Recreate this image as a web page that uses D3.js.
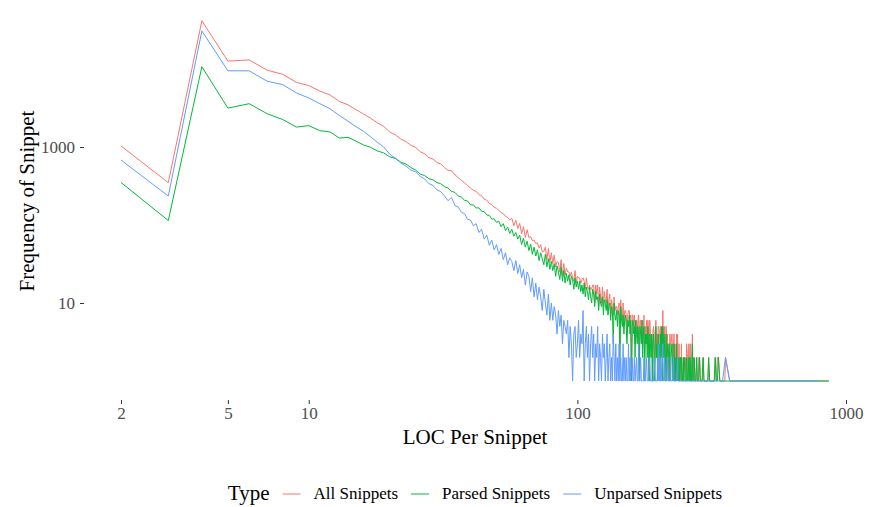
<!DOCTYPE html>
<html><head><meta charset="utf-8">
<script src="https://cdn.jsdelivr.net/npm/d3@7"></script>
<style>body{margin:0;background:#fff}text{font-family:"Liberation Serif","Times New Roman",serif}</style>
</head><body>
<svg id="c" width="871" height="507"></svg>
<script>
// LOC per snippet runs 2..370 (one value per integer LOC), then a sparse tail
const locFirst = 2, locLast = 370;
const tailLoc = [786, 864];

const parsedSnippets = [
 351, 114, 10700, 3150, 3590, 2670, 2250, 1800, 1880,
 1620, 1560, 1300, 1330, 1190, 1060, 990, 890, 840, 750,
 715, 640, 605, 545, 505, 450, 430, 392, 380, 350,
 338, 310, 298, 270, 262, 236, 228, 208, 203, 182,
 181, 165, 166, 150, 149, 134, 133, 119, 120, 108,
 112, 95, 104, 85, 94, 78, 88, 72, 80, 66,
 74, 56, 68, 52, 62, 47, 57, 42, 52, 40,
 48, 35, 44, 37, 31, 42, 29, 37, 27, 34,
 26, 32, 22, 30, 25, 20, 29, 19, 26, 18,
 24, 19, 23, 17, 22, 20, 15, 21, 16, 19,
 15, 19, 14, 17, 13, 18, 12, 16, 14, 11,
 16, 12, 10, 15, 13, 9, 14, 11, 12, 8,
 13, 10, 9, 12, 7, 11, 10, 8, 11, 7,
 9, 10, 6, 9, 8, 3, 10, 7, 6, 8,
 5, 8, 7, 2, 9, 6, 5, 7, 4, 6,
 7, 5, 3, 6, 5, 7, 4, 6, 1, 5,
 6, 4, 5, 2, 6, 4, 3, 5, 4, 1,
 5, 4, 3, 6, 2, 4, 5, 1, 4, 3,
 4, 2, 5, 3, 1, 4, 3, 2, 4, 1,
 3, 4, 2, 1, 3, 5, 2, 3, 1, 4,
 2, 3, 1, 4, 2, 5, 1, 5, 2, 4,
 3, 1, 2, 4, 1, 2, 3, 0, 2, 1,
 3, 1, 2, 0, 3, 1, 2, 1, 3, 1,
 2, 0, 1, 3, 1, 2, 0, 1, 2, 1,
 1, 2, 0, 2, 1, 1, 0, 2, 1, 0,
 2, 1, 0, 1, 2, 0, 1, 1, 0, 2,
 1, 0, 2, 1, 0, 1, 2, 3, 1, 0,
 1, 2, 0, 1, 0, 1, 0, 2, 0, 1,
 0, 1, 1, 0, 2, 0, 1, 0, 1, 0,
 1, 0, 0, 2, 0, 1, 0, 0, 1, 0,
 1, 0, 1, 0, 0, 1, 0, 2, 0, 0,
 1, 0, 0, 1, 0, 0, 1, 0, 0, 1,
 0, 0, 1, 0, 0, 2, 0, 0, 1, 0,
 0, 1, 0, 0, 2, 0, 0, 0, 1, 0,
 0, 0, 1, 0, 0, 0, 0, 1, 0, 0,
 0, 0, 0, 1, 0, 0, 0, 0, 0, 0,
 0, 0, 0, 0, 0, 0, 0, 0, 0, 0
];
const unparsedSnippets = [
 680, 235, 30800, 9480, 9480, 6970, 6310, 4930, 4250,
 3590, 3090, 2540, 2140, 1820, 1585, 1350, 1150, 1000, 813,
 720, 625, 570, 505, 480, 420, 388, 340, 322, 282,
 268, 236, 205, 226, 178, 170, 146, 140, 118, 116,
 98, 104, 80, 88, 66, 74, 55, 64, 48, 56,
 42, 50, 36, 44, 31, 38, 34, 26, 35, 24,
 31, 21, 27, 17, 25, 22, 14, 21, 12, 18,
 11, 16, 12, 8, 15, 10, 7, 13, 6, 10,
 6, 9, 7, 4, 8, 5, 7, 3, 6, 5,
 4, 6, 2, 5, 3, 1, 4, 5, 2, 3,
 6, 2, 4, 3, 8, 1, 3, 5, 2, 4,
 1, 3, 5, 2, 4, 1, 3, 2, 5, 1,
 3, 2, 1, 4, 2, 3, 1, 2, 4, 1,
 2, 3, 1, 2, 1, 4, 2, 1, 3, 1,
 2, 1, 3, 1, 2, 1, 1, 3, 1, 2,
 1, 2, 1, 1, 3, 1, 2, 1, 0, 2,
 1, 1, 2, 1, 0, 2, 1, 1, 3, 1,
 1, 2, 1, 0, 1, 1, 2, 1, 1, 0,
 2, 1, 1, 1, 0, 2, 1, 1, 0, 1,
 1, 1, 2, 0, 1, 1, 0, 1, 2, 1,
 3, 1, 2, 1, 1, 0, 2, 3, 1, 1,
 2, 1, 0, 1, 1, 2, 0, 1, 1, 0,
 1, 2, 1, 0, 1, 1, 0, 2, 1, 0,
 1, 1, 0, 1, 0, 2, 1, 0, 1, 0,
 1, 0, 1, 1, 0, 0, 1, 0, 1, 0,
 0, 1, 0, 0, 1, 0, 1, 0, 0, 1,
 0, 0, 1, 0, 1, 0, 0, 1, 0, 0,
 1, 0, 0, 0, 1, 0, 0, 0, 1, 0,
 0, 0, 1, 0, 0, 0, 0, 1, 0, 0,
 0, 1, 0, 0, 0, 0, 1, 0, 0, 0,
 0, 0, 0, 1, 0, 0, 0, 0, 0, 1,
 0, 0, 0, 0, 0, 1, 0, 0, 0, 0,
 0, 0, 0, 1, 0, 0, 0, 0, 0, 0,
 0, 1, 0, 0, 0, 0, 0, 0, 0, 0,
 0, 0, 0, 0, 0, 0, 1, 0, 0, 0,
 0, 0, 0, 0, 0, 2, 0, 0, 0, 0,
 0, 0, 0, 0, 0, 0, 0, 0, 1, 0
];
const allSnippets = [
 1031, 349, 41500, 12630, 13070, 9640, 8560, 6730, 6130,
 5210, 4650, 3840, 3470, 3010, 2645, 2340, 2040, 1840, 1563,
 1435, 1265, 1175, 1050, 985, 870, 818, 732, 702, 632,
 606, 546, 503, 496, 440, 406, 374, 348, 321, 298,
 279, 269, 246, 238, 215, 208, 188, 183, 168, 164,
 154, 145, 140, 129, 125, 116, 122, 98, 115, 90,
 105, 77, 95, 69, 87, 69, 71, 63, 64, 58,
 59, 51, 56, 45, 46, 52, 36, 50, 33, 44,
 32, 41, 29, 34, 33, 25, 36, 22, 32, 23,
 28, 25, 25, 22, 25, 21, 19, 26, 18, 22,
 21, 21, 18, 20, 21, 19, 15, 21, 16, 15,
 17, 15, 15, 17, 17, 10, 17, 13, 17, 9,
 16, 12, 10, 16, 9, 14, 11, 10, 15, 8,
 11, 13, 7, 11, 9, 7, 12, 8, 9, 9,
 7, 9, 10, 3, 11, 7, 6, 10, 5, 8,
 8, 7, 4, 7, 8, 8, 6, 7, 1, 7,
 7, 5, 7, 3, 6, 6, 4, 6, 7, 2,
 6, 6, 4, 6, 3, 5, 7, 2, 5, 3,
 6, 3, 6, 4, 1, 6, 4, 3, 4, 2,
 4, 5, 4, 1, 4, 6, 2, 4, 3, 5,
 5, 4, 3, 5, 3, 5, 3, 8, 3, 5,
 5, 2, 2, 5, 2, 4, 3, 1, 3, 1,
 4, 3, 3, 0, 4, 2, 2, 3, 4, 1,
 3, 1, 1, 4, 1, 4, 1, 1, 3, 1,
 2, 2, 1, 3, 1, 1, 1, 2, 2, 0,
 2, 2, 0, 1, 3, 0, 2, 1, 0, 3,
 1, 0, 3, 1, 1, 1, 2, 4, 1, 0,
 2, 2, 0, 1, 1, 1, 0, 2, 1, 1,
 0, 1, 2, 0, 2, 0, 1, 1, 1, 0,
 1, 1, 0, 2, 0, 1, 1, 0, 1, 0,
 1, 0, 1, 1, 0, 1, 0, 2, 0, 1,
 1, 0, 0, 1, 0, 1, 1, 0, 0, 1,
 0, 0, 1, 1, 0, 2, 0, 0, 1, 0,
 0, 2, 0, 0, 2, 0, 0, 0, 1, 0,
 0, 0, 1, 0, 0, 0, 1, 1, 0, 0,
 0, 0, 0, 1, 0, 2, 0, 0, 0, 0,
 0, 0, 0, 0, 0, 0, 0, 0, 1, 0
];
const tailAll = [1, 1];
const tailParsed = [0, 1];
const tailUnparsed = [1, 0];

const seriesNames = ["All Snippets", "Parsed Snippets", "Unparsed Snippets"];
const seriesColors = ["#F8766D", "#00BA38", "#619CFF"];
const xTicks = [2, 5, 10, 100, 1000];
const yTicks = [10, 1000];

const svg = d3.select("#c");
const x = d3.scaleLog().domain([2, 1000]).range([121, 846]);
const y = d3.scaleLog().domain([1, 1000]).range([381, 147]);

const loc = d3.range(locFirst, locLast + 1).concat(tailLoc);
const seriesValues = [
  allSnippets.concat(tailAll),
  parsedSnippets.concat(tailParsed),
  unparsedSnippets.concat(tailUnparsed)
];

const line = d3.line().x(d => x(d.loc)).y(d => y(d.v));
seriesValues.forEach((vals, k) => {
  const pts = loc.map((l, i) => ({loc: l, v: vals[i]})).filter(d => d.v > 0);
  svg.append("path").datum(pts)
    .attr("d", line)
    .attr("fill", "none")
    .attr("stroke", seriesColors[k])
    .attr("stroke-width", 1)
    .attr("stroke-linejoin", "round");
});

// axes
const xAxis = d3.axisBottom(x).tickValues(xTicks).tickFormat(d3.format("d")).tickSize(4).tickPadding(3);
const gx = svg.append("g").attr("transform", "translate(0,400)").call(xAxis);
const yAxis = d3.axisLeft(y).tickValues(yTicks).tickFormat(d3.format("d")).tickSize(4).tickPadding(5);
const gy = svg.append("g").attr("transform", "translate(84,0)").call(yAxis);
[gx, gy].forEach(g => {
  g.select(".domain").remove();
  g.selectAll(".tick line").attr("stroke", "#333333").attr("stroke-width", 1);
  g.selectAll(".tick text").attr("fill", "#4D4D4D")
    .style("font-family", '"Liberation Serif", serif').style("font-size", "17px");
});

// axis titles
svg.append("text").attr("x", 475).attr("y", 444).attr("text-anchor", "middle")
  .style("font-size", "21px").attr("fill", "#000").text("LOC Per Snippet");
svg.append("text").attr("transform", "translate(34,201) rotate(-90)").attr("text-anchor", "middle")
  .style("font-size", "21px").attr("fill", "#000").text("Frequency of Snippet");

// legend
const lg = svg.append("g");
let cx = 0;
const legTitle = lg.append("text").attr("x", 0).attr("y", 500).style("font-size", "21px").text("Type");
cx = legTitle.node().getComputedTextLength() + 13;
seriesNames.forEach((name, k) => {
  lg.append("line").attr("x1", cx).attr("x2", cx + 18).attr("y1", 494).attr("y2", 494)
    .attr("stroke", seriesColors[k]).attr("stroke-width", 1);
  cx += 18 + 13;
  const t = lg.append("text").attr("x", cx).attr("y", 499).style("font-size", "17px").text(name);
  cx += t.node().getComputedTextLength() + 13;
});
const totalW = cx - 13;
lg.attr("transform", `translate(${475 - totalW / 2},0)`);
</script>
</body></html>
